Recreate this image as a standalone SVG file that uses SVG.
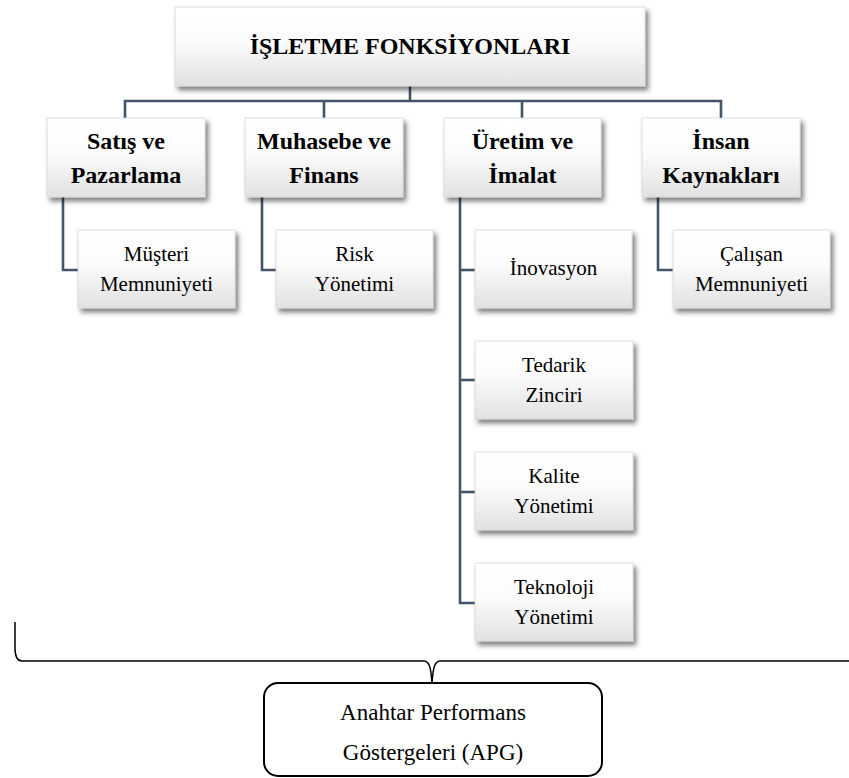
<svg xmlns="http://www.w3.org/2000/svg" width="849" height="778" viewBox="0 0 849 778">
  <style>
    .box { fill: url(#boxFill); stroke: #d4d4d4; stroke-width: 0.75; filter: url(#shadow); }
    .conn { fill: none; stroke: #44546a; stroke-width: 2.6; stroke-linejoin: miter; }
    text { font-family: 'Liberation Serif', 'DejaVu Serif', serif; fill: #000; text-anchor: middle; }
    .title { font-weight: bold; font-size: 24px; }
    .item { font-size: 21px; }
    .kpi { font-size: 23px; }
  </style>
  <defs>
    <linearGradient id="boxFill" x1="0" y1="0" x2="0" y2="1">
      <stop offset="0" stop-color="#ffffff"/>
      <stop offset="0.45" stop-color="#fbfbfb"/>
      <stop offset="1" stop-color="#e1e1e1"/>
    </linearGradient>
    <filter id="shadow" x="-10%" y="-10%" width="125%" height="135%">
      <feDropShadow dx="3" dy="4" stdDeviation="2.5" flood-color="#000" flood-opacity="0.5"/>
    </filter>
  </defs>

  <rect width="849" height="778" fill="#ffffff"/>

  <!-- connectors -->
  <g id="connectors">
    <path class="conn" d="M410,86 V101"/>
    <path class="conn" d="M125,118 V101 H721 V118"/>
    <path class="conn" d="M324,101 V118"/>
    <path class="conn" d="M522,101 V118"/>
    <path class="conn" d="M63,197 V270 H78"/>
    <path class="conn" d="M262,197 V270 H276"/>
    <path class="conn" d="M460,197 V603 H475"/>
    <path class="conn" d="M460,270 H475"/>
    <path class="conn" d="M460,380 H475"/>
    <path class="conn" d="M460,492 H475"/>
    <path class="conn" d="M658,197 V270 H673"/>
    <!-- brace gathering all functions into the KPI box -->
    <path d="M15,622 V648 Q15,661 22,661 H424 C430,661 431,670 432,683 C433,670 434,661 440,661 H849" fill="none" stroke="#000" stroke-width="1.5"/>
  </g>

  <!-- root -->
  <g id="root">
    <rect class="box" x="175" y="7" width="470" height="79"/>
    <text class="title" x="410" y="54" font-family="Liberation Serif">İŞLETME FONKSİYONLARI</text>
  </g>

  <!-- functions -->
  <g id="satis">
    <rect class="box" x="47" y="118" width="158" height="79"/>
    <text class="title" x="126" y="149">Satış ve</text>
    <text class="title" x="126" y="183">Pazarlama</text>
  </g>
  <g id="muhasebe">
    <rect class="box" x="245" y="118" width="158" height="79"/>
    <text class="title" x="324" y="149">Muhasebe ve</text>
    <text class="title" x="324" y="183">Finans</text>
  </g>
  <g id="uretim">
    <rect class="box" x="444" y="118" width="157" height="79"/>
    <text class="title" x="522.5" y="149">Üretim ve</text>
    <text class="title" x="522.5" y="183">İmalat</text>
  </g>
  <g id="insan">
    <rect class="box" x="642" y="118" width="158" height="79"/>
    <text class="title" x="721" y="149">İnsan</text>
    <text class="title" x="721" y="183">Kaynakları</text>
  </g>

  <!-- sub items -->
  <g id="musteri">
    <rect class="box" x="78" y="230" width="157" height="78"/>
    <text class="item" x="156.5" y="261">Müşteri</text>
    <text class="item" x="156.5" y="291">Memnuniyeti</text>
  </g>
  <g id="risk">
    <rect class="box" x="276" y="230" width="157" height="78"/>
    <text class="item" x="354.5" y="261">Risk</text>
    <text class="item" x="354.5" y="291">Yönetimi</text>
  </g>
  <g id="inovasyon">
    <rect class="box" x="475" y="230" width="157" height="78"/>
    <text class="item" x="553.5" y="275">İnovasyon</text>
  </g>
  <g id="tedarik">
    <rect class="box" x="475" y="341" width="158" height="78"/>
    <text class="item" x="554" y="372">Tedarik</text>
    <text class="item" x="554" y="402">Zinciri</text>
  </g>
  <g id="kalite">
    <rect class="box" x="475" y="452" width="158" height="78"/>
    <text class="item" x="554" y="483">Kalite</text>
    <text class="item" x="554" y="513">Yönetimi</text>
  </g>
  <g id="teknoloji">
    <rect class="box" x="475" y="563" width="158" height="78"/>
    <text class="item" x="554" y="594">Teknoloji</text>
    <text class="item" x="554" y="624">Yönetimi</text>
  </g>
  <g id="calisan">
    <rect class="box" x="673" y="230" width="157" height="78"/>
    <text class="item" x="751.5" y="261">Çalışan</text>
    <text class="item" x="751.5" y="291">Memnuniyeti</text>
  </g>

  <!-- key performance indicators -->
  <g id="apg">
    <rect x="264" y="683" width="338" height="93" rx="14" ry="14" fill="#ffffff" stroke="#000" stroke-width="2"/>
    <text class="kpi" x="433" y="720">Anahtar Performans</text>
    <text class="kpi" x="433" y="760">Göstergeleri (APG)</text>
  </g>
</svg>
